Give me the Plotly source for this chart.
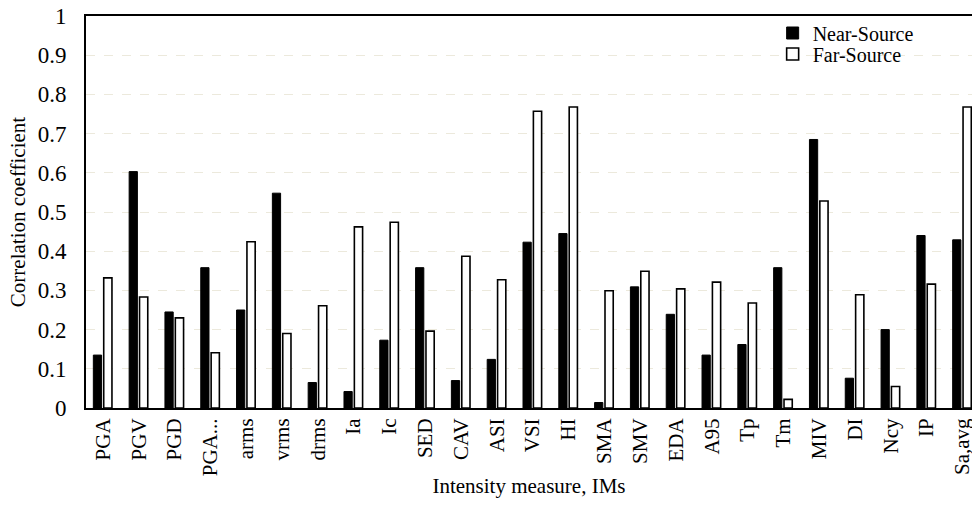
import plotly.graph_objects as go

categories = ["PGA", "PGV", "PGD", "PGA...", "arms", "vrms", "drms", "Ia", "Ic", "SED",
              "CAV", "ASI", "VSI", "HI", "SMA", "SMV", "EDA", "A95", "Tp", "Tm",
              "MIV", "DI", "Ncy", "IP", "Sa,avg"]
near_source = [0.135, 0.603, 0.245, 0.358, 0.25, 0.548, 0.065, 0.042, 0.173, 0.358,
               0.07, 0.124, 0.423, 0.445, 0.014, 0.309, 0.239, 0.135, 0.162, 0.358,
               0.685, 0.076, 0.2, 0.44, 0.429]
far_source = [0.332, 0.283, 0.23, 0.141, 0.424, 0.19, 0.261, 0.462, 0.474, 0.196,
              0.387, 0.327, 0.757, 0.768, 0.299, 0.349, 0.304, 0.321, 0.268, 0.022,
              0.528, 0.289, 0.055, 0.316, 0.768]
y_ticks = [0, 0.1, 0.2, 0.3, 0.4, 0.5, 0.6, 0.7, 0.8, 0.9, 1]
y_labels = ["0", "0.1", "0.2", "0.3", "0.4", "0.5", "0.6", "0.7", "0.8", "0.9", "1"]

font = "Liberation Serif"

fig = go.Figure()
fig.add_trace(go.Bar(
    x=categories, y=near_source, name="Near-Source", legend="legend",
    marker=dict(color="black", line=dict(color="black", width=1)),
    width=0.23, offset=-0.27,
))
fig.add_trace(go.Bar(
    x=categories, y=far_source, name="Far-Source", legend="legend2",
    marker=dict(color="white", line=dict(color="black", width=1.6)),
    width=0.23, offset=0.02,
))

fig.update_layout(
    width=972, height=513,
    margin=dict(l=86, r=0, t=16, b=105, autoexpand=False),
    plot_bgcolor="white", paper_bgcolor="white",
    font=dict(family=font, color="black", size=18),
    showlegend=True,
    legend=dict(x=0.775, y=0.9566, xanchor="left", yanchor="middle",
                bgcolor="rgba(0,0,0,0)", font=dict(size=20, family=font),
                itemwidth=30),
    legend2=dict(x=0.775, y=0.903, xanchor="left", yanchor="middle",
                 bgcolor="rgba(0,0,0,0)", font=dict(size=20, family=font),
                 itemwidth=30),
)
fig.update_xaxes(
    type="category", range=[-0.475, 24.27], automargin=False,
    showline=True, linecolor="black", linewidth=2, mirror=True,
    ticks="", tickangle=-90, tickfont=dict(size=21, family=font),
    title=dict(text="Intensity measure, IMs", font=dict(size=21, family=font), standoff=3),
    showgrid=False,
)
fig.update_yaxes(
    range=[0, 1], tickvals=y_ticks, ticktext=y_labels, automargin=False,
    showline=True, linecolor="black", linewidth=2,
    ticks="", ticklabelstandoff=13, ticklabeloverflow="allow",
    tickfont=dict(size=23, family=font),
    showgrid=True, gridcolor="#ECE9DC", griddash="dash", gridwidth=1.3,
    zeroline=False,
    title=dict(text="Correlation coefficient", font=dict(size=21, family=font), standoff=6),
)

fig.write_html(
    "out.html",
    config={"displayModeBar": False},
    post_script="document.body.style.margin='0';document.body.style.overflow='hidden';",
)
